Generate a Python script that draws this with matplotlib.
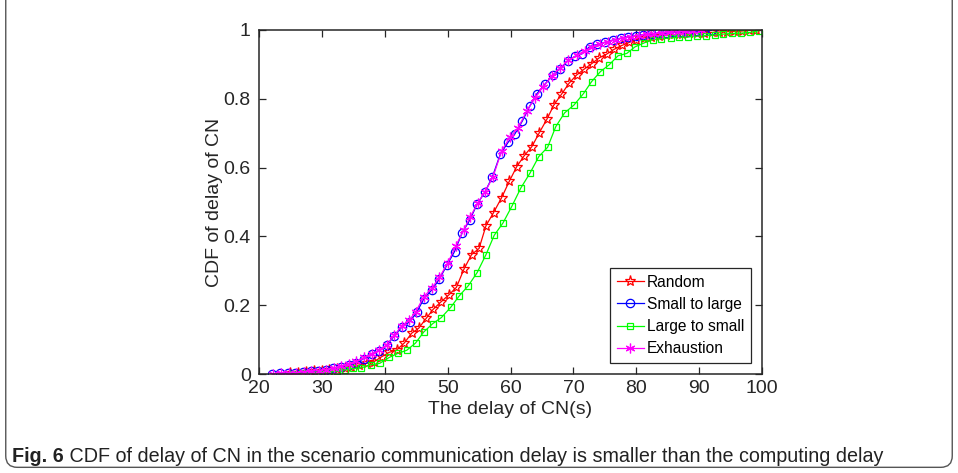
import matplotlib
matplotlib.use("Agg")
import matplotlib.pyplot as plt
from matplotlib.patches import FancyBboxPatch
from matplotlib.ticker import FuncFormatter

# ---------------- data ----------------
rand_x = [24.9, 26.2, 27.5, 28.8, 30.0, 31.2, 32.4, 33.6, 34.7, 35.9, 37.1, 38.3, 39.5, 40.7,
          41.9, 43.1, 44.3, 45.4, 46.6, 47.7, 48.9, 50.2, 51.4, 52.6, 53.8, 55.0, 56.1, 57.3,
          58.6, 59.8, 61.0, 62.2, 63.4, 64.6, 65.8, 66.9, 68.1, 69.3, 70.5, 71.7, 72.9, 74.1,
          75.3, 76.5, 77.7, 78.9, 80.0, 81.2, 82.4, 83.6, 84.8, 86.0, 87.2, 88.4, 89.6, 90.8,
          92.0, 93.2, 94.4, 95.6, 96.8, 98.0, 99.0]
rand_y = [0.002, 0.004, 0.006, 0.008, 0.010, 0.012, 0.015, 0.018, 0.021, 0.026, 0.031, 0.036,
          0.050, 0.063, 0.070, 0.090, 0.119, 0.133, 0.162, 0.188, 0.209, 0.230, 0.252, 0.305,
          0.347, 0.365, 0.431, 0.469, 0.513, 0.560, 0.603, 0.635, 0.661, 0.702, 0.741, 0.782,
          0.813, 0.845, 0.869, 0.886, 0.902, 0.919, 0.930, 0.944, 0.955, 0.964, 0.972, 0.977,
          0.980, 0.983, 0.985, 0.987, 0.988, 0.990, 0.991, 0.992, 0.993, 0.994, 0.995, 0.996,
          0.997, 0.999, 1.000]

s2l_x = [22.1, 23.4, 24.6, 25.8, 27.0, 28.2, 29.4, 30.6, 31.8, 33.0, 34.3, 35.5, 36.7, 37.9,
         39.1, 40.3, 41.5, 42.8, 44.0, 45.1, 46.2, 47.5, 48.7, 49.9, 51.1, 52.3, 53.5, 54.7,
         55.9, 57.1, 58.4, 59.6, 60.7, 61.9, 63.1, 64.2, 65.5, 66.7, 67.9, 69.1, 70.2, 71.4,
         72.6, 73.8, 75.0, 76.3, 77.5, 78.7, 79.9, 81.1, 82.3, 83.5, 84.7, 85.9, 87.1, 88.3,
         89.5, 90.8, 92.0]
s2l_y = [0.001, 0.002, 0.003, 0.004, 0.006, 0.008, 0.010, 0.013, 0.017, 0.021, 0.026, 0.033,
         0.045, 0.058, 0.068, 0.083, 0.111, 0.138, 0.152, 0.180, 0.218, 0.245, 0.276, 0.317,
         0.356, 0.410, 0.447, 0.494, 0.528, 0.572, 0.640, 0.673, 0.698, 0.736, 0.780, 0.815,
         0.843, 0.869, 0.887, 0.910, 0.923, 0.931, 0.952, 0.958, 0.964, 0.971, 0.976, 0.980,
         0.984, 0.986, 0.988, 0.990, 0.991, 0.993, 0.994, 0.995, 0.996, 0.997, 0.999]

l2s_x = [25.4, 26.8, 28.2, 29.6, 31.0, 32.4, 33.7, 35.0, 36.3, 37.8, 39.2, 40.7, 42.1, 43.5,
         44.9, 46.2, 47.6, 49.0, 50.5, 51.8, 53.3, 54.7, 56.1, 57.4, 58.8, 60.2, 61.65, 63.1,
         64.5, 65.9, 67.2, 68.6, 70.1, 71.6, 72.9, 74.3, 75.7, 77.1, 78.5, 79.8, 81.2, 82.6,
         84.0, 85.5, 86.8, 88.2, 89.6, 91.1, 92.5, 93.8, 95.3, 96.7, 98.1, 99.5]
l2s_y = [0.001, 0.002, 0.003, 0.004, 0.006, 0.008, 0.012, 0.016, 0.018, 0.027, 0.031, 0.048,
         0.060, 0.069, 0.090, 0.122, 0.146, 0.164, 0.194, 0.226, 0.257, 0.295, 0.347, 0.403,
         0.439, 0.487, 0.541, 0.584, 0.632, 0.659, 0.719, 0.759, 0.782, 0.815, 0.850, 0.879,
         0.899, 0.925, 0.932, 0.951, 0.962, 0.972, 0.975, 0.977, 0.979, 0.980, 0.982, 0.984,
         0.986, 0.988, 0.990, 0.991, 0.993, 0.998]

exh_x = [22.3, 23.5, 24.7, 25.9, 27.1, 28.3, 29.5, 30.7, 31.9, 33.1, 34.3, 35.5, 36.7, 37.9,
         39.1, 40.3, 41.5, 42.7, 43.9, 44.9, 46.2, 47.5, 48.7, 50.0, 51.3, 52.6, 53.6, 54.8,
         55.9, 57.2, 58.6, 59.9, 61.2, 62.6, 63.9, 65.2, 66.6, 67.9, 69.2, 70.5, 71.8, 73.0,
         74.3, 75.5, 76.8, 78.0, 79.2, 80.5, 81.7, 82.9, 84.1, 85.3, 86.6, 87.8, 89.0, 90.3]
exh_y = [0.001, 0.002, 0.003, 0.004, 0.006, 0.008, 0.010, 0.013, 0.017, 0.022, 0.028, 0.037,
         0.048, 0.058, 0.070, 0.085, 0.112, 0.140, 0.157, 0.180, 0.224, 0.250, 0.281, 0.322,
         0.372, 0.420, 0.457, 0.497, 0.528, 0.572, 0.649, 0.688, 0.715, 0.765, 0.802, 0.835,
         0.866, 0.890, 0.912, 0.926, 0.940, 0.952, 0.960, 0.966, 0.972, 0.977, 0.981, 0.984,
         0.987, 0.989, 0.991, 0.993, 0.994, 0.996, 0.997, 0.999]

labels = ["Random", "Small to large", "Large to small", "Exhaustion"]
x_ticks = [20, 30, 40, 50, 60, 70, 80, 90, 100]
y_ticks = [0, 0.2, 0.4, 0.6, 0.8, 1.0]
x_label = "The delay of CN(s)"
y_label = "CDF of delay of CN"
caption_bold = "Fig. 6"
caption_text = " CDF of delay of CN in the scenario communication delay is smaller than the computing delay"

# ---------------- figure ----------------
plt.rcParams['font.family'] = ['Liberation Sans', 'DejaVu Sans']
fig = plt.figure(figsize=(9.58, 4.73), dpi=100)

# border frame
frame = FancyBboxPatch((0.006, 0.012), 0.988, 1.2, transform=fig.transFigure,
                       boxstyle="round,pad=0,rounding_size=0.012", fc='none',
                       ec='#555555', lw=1.0, mutation_aspect=958/473)
fig.patches.append(frame)

ax = fig.add_axes([259/958, (473-374)/473, 503/958, 344/473])
axc = '#262626'
ax.plot(rand_x, rand_y, color='#FF0000', lw=0.9, marker='*', ms=8, mfc='none', mew=0.9, label=labels[0])
ax.plot(s2l_x, s2l_y, color='#0000FF', lw=0.9, marker='o', ms=6, mfc='none', mew=0.9, label=labels[1])
ax.plot(l2s_x, l2s_y, color='#00FF00', lw=0.9, marker='s', ms=5, mfc='none', mew=0.9, label=labels[2])
ax.plot(exh_x, exh_y, color='#FF00FF', lw=0.9, marker=(6, 2, 0), ms=7, mfc='none', mew=0.9, label=labels[3])

ax.set_xlim(20, 100)
ax.set_ylim(0, 1)
ax.set_xticks(x_ticks)
ax.set_yticks(y_ticks)
ax.yaxis.set_major_formatter(FuncFormatter(lambda v, p: ('%g' % v)))
ax.tick_params(direction='in', length=5, width=0.9, top=True, right=True,
               labelsize=14, colors=axc)
ax.tick_params(axis='x', pad=4)
ax.tick_params(axis='y', pad=6)
for s in ax.spines.values():
    s.set_linewidth(1.1)
    s.set_color(axc)
ax.set_xlabel(x_label, fontsize=14, color=axc, labelpad=3)
ax.set_ylabel(y_label, fontsize=14, color=axc, labelpad=0)

leg = ax.legend(loc='lower right', bbox_to_anchor=(0.978, 0.032), borderaxespad=0,
                fontsize=11.2, fancybox=False, edgecolor=axc, framealpha=1,
                handlelength=1.75, handletextpad=0.2, labelspacing=0.47, borderpad=0.42)
leg.get_frame().set_linewidth(0.9)

# caption
cap_fam = ['Liberation Sans', 'DejaVu Sans']
t1 = fig.text(12/958, 1 - 456/473, caption_bold, fontsize=14.25, fontweight='bold',
              va='center', ha='left', color='#222222', family=cap_fam)
fig.canvas.draw()
bb = t1.get_window_extent()
fig.text(bb.x1 / 958, 1 - 456/473, caption_text, fontsize=14.25, va='center', ha='left',
         color='#222222', family=cap_fam)

fig.savefig("out.png", dpi=100)
